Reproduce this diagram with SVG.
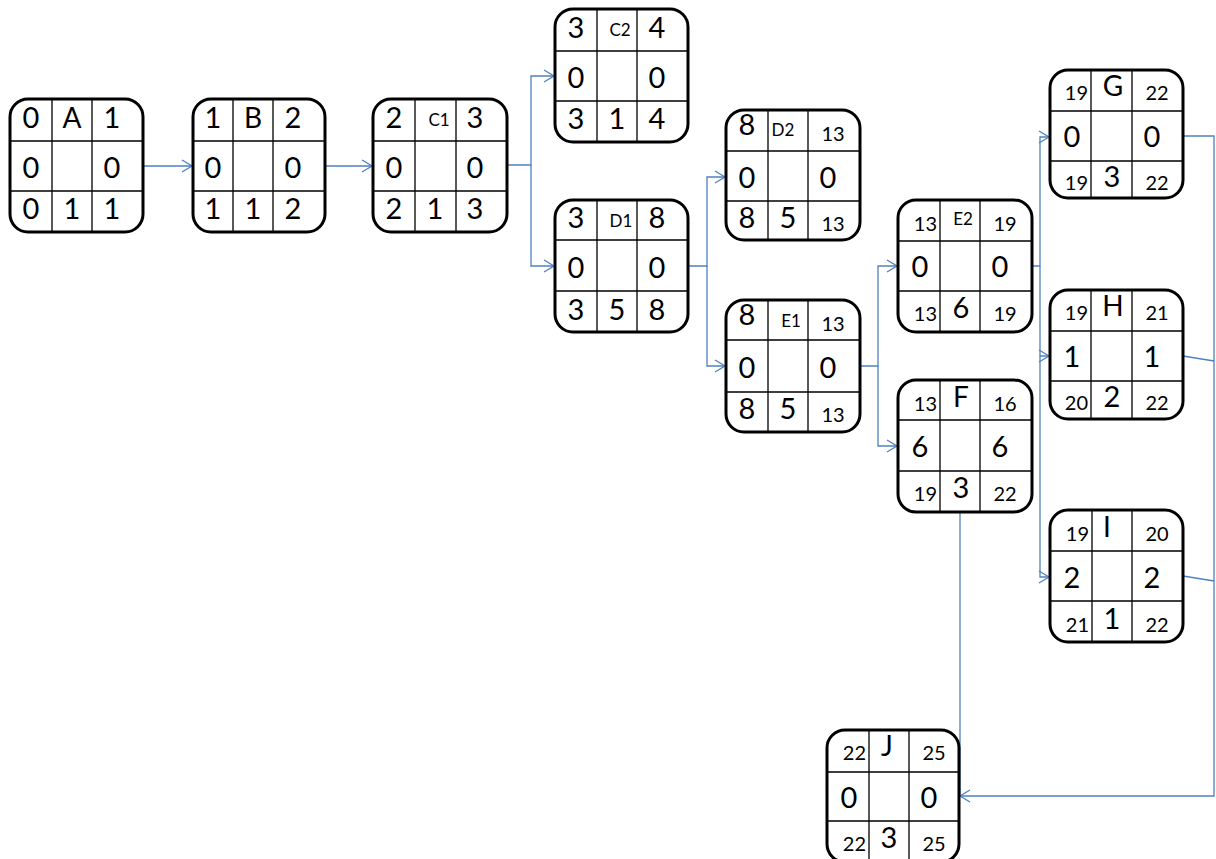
<svg xmlns="http://www.w3.org/2000/svg" width="1216" height="859" viewBox="0 0 1216 859">
<defs>
<marker id="arr" markerUnits="userSpaceOnUse" markerWidth="14" markerHeight="16" refX="11" refY="7" orient="auto">
<path d="M1,1 L11,7 L1,13" fill="none" stroke="#4f81bd" stroke-width="1.3"/>
</marker>
</defs>
<style>
.box{fill:#fff;stroke:#000;stroke-width:3}
.grid{fill:none;stroke:#000;stroke-width:1.3}
text{font-family:Lato,"Liberation Sans",sans-serif;fill:#000;text-anchor:middle}
.b{font-size:29px}
.s{font-size:20px}
.sl{font-size:20px;text-anchor:end}
.l{font-size:17px}
.let{font-size:28px}
.conn{fill:none;stroke:#4f81bd;stroke-width:1.3}
</style>
<rect width="1216" height="859" fill="#fff"/>
<g id="connectors">
<path class="conn" d="M143,166 H192" marker-end="url(#arr)"/>
<path class="conn" d="M325,166 H372" marker-end="url(#arr)"/>
<path class="conn" d="M507,165 H531 V76 H554" marker-end="url(#arr)"/>
<path class="conn" d="M531,165 V266 H554" marker-end="url(#arr)"/>
<path class="conn" d="M688,266 H707 V177 H725" marker-end="url(#arr)"/>
<path class="conn" d="M707,266 V366 H725" marker-end="url(#arr)"/>
<path class="conn" d="M860,366 H878 V266 H897" marker-end="url(#arr)"/>
<path class="conn" d="M878,366 V446 H897" marker-end="url(#arr)"/>
<path class="conn" d="M1032,266 H1040 V137 H1049" marker-end="url(#arr)"/>
<path class="conn" d="M1040,266 V356 H1049" marker-end="url(#arr)"/>
<path class="conn" d="M1040,356 V577 H1049" marker-end="url(#arr)"/>
<path class="conn" d="M1183,136 H1214 V796 H960" marker-end="url(#arr)"/>
<path class="conn" d="M1183,356 L1214,361"/>
<path class="conn" d="M1183,576 L1214,581"/>
<path class="conn" d="M960,512 V796"/>
</g>
<g id="A" transform="translate(10,99)">
<rect class="box" width="133" height="133" rx="18"/>
<path class="grid" d="M42,0V133M82,0V133M0,42H133M0,92H133"/>
<text class="b" x="21" y="29">0</text><text class="let" x="62" y="29">A</text><text class="b" x="102" y="29">1</text>
<text class="b" x="21" y="79">0</text><text class="b" x="102" y="79">0</text>
<text class="b" x="21" y="120">0</text><text class="b" x="62" y="120">1</text><text class="b" x="102" y="120">1</text>
</g>
<g id="B" transform="translate(193,99)">
<rect class="box" width="132" height="133" rx="18"/>
<path class="grid" d="M40,0V133M80,0V133M0,42H132M0,92H132"/>
<text class="b" x="20" y="29">1</text><text class="let" x="60" y="29">B</text><text class="b" x="100" y="29">2</text>
<text class="b" x="20" y="79">0</text><text class="b" x="100" y="79">0</text>
<text class="b" x="20" y="120">1</text><text class="b" x="60" y="120">1</text><text class="b" x="100" y="120">2</text>
</g>
<g id="C1" transform="translate(373,99)">
<rect class="box" width="134" height="133" rx="18"/>
<path class="grid" d="M42,0V133M83,0V133M0,42H134M0,92H134"/>
<text class="b" x="21" y="29">2</text><text class="l" x="66" y="27">C1</text><text class="b" x="102" y="29">3</text>
<text class="b" x="21" y="79">0</text><text class="b" x="102" y="79">0</text>
<text class="b" x="21" y="120">2</text><text class="b" x="62" y="120">1</text><text class="b" x="102" y="120">3</text>
</g>
<g id="C2" transform="translate(555,9)">
<rect class="box" width="133" height="133" rx="18"/>
<path class="grid" d="M42,0V133M82,0V133M0,42H133M0,92H133"/>
<text class="b" x="21" y="29">3</text><text class="l" x="65" y="27">C2</text><text class="b" x="102" y="29">4</text>
<text class="b" x="21" y="79">0</text><text class="b" x="102" y="79">0</text>
<text class="b" x="21" y="120">3</text><text class="b" x="62" y="120">1</text><text class="b" x="102" y="120">4</text>
</g>
<g id="D1" transform="translate(555,200)">
<rect class="box" width="133" height="132" rx="18"/>
<path class="grid" d="M42,0V132M82,0V132M0,40H133M0,91H133"/>
<text class="b" x="21" y="28">3</text><text class="l" x="66" y="27">D1</text><text class="b" x="102" y="28">8</text>
<text class="b" x="21" y="78">0</text><text class="b" x="102" y="78">0</text>
<text class="b" x="21" y="120">3</text><text class="b" x="62" y="120">5</text><text class="b" x="102" y="120">8</text>
</g>
<g id="D2" transform="translate(726,110)">
<rect class="box" width="134" height="130" rx="18"/>
<path class="grid" d="M42,0V130M82,0V130M0,41H134M0,91H134"/>
<text class="b" x="21" y="25">8</text><text class="l" x="57" y="26">D2</text><text class="s" x="107" y="31">13</text>
<text class="b" x="21" y="78">0</text><text class="b" x="102" y="78">0</text>
<text class="b" x="21" y="118">8</text><text class="b" x="62" y="118">5</text><text class="s" x="107" y="121">13</text>
</g>
<g id="E1" transform="translate(726,300)">
<rect class="box" width="134" height="132" rx="18"/>
<path class="grid" d="M42,0V132M82,0V132M0,40H134M0,92H134"/>
<text class="b" x="21" y="25">8</text><text class="l" x="65" y="27">E1</text><text class="s" x="107" y="31">13</text>
<text class="b" x="21" y="78">0</text><text class="b" x="102" y="78">0</text>
<text class="b" x="21" y="119">8</text><text class="b" x="62" y="119">5</text><text class="s" x="107" y="122">13</text>
</g>
<g id="E2" transform="translate(898,200)">
<rect class="box" width="134" height="132" rx="18"/>
<path class="grid" d="M42,0V132M82,0V132M0,41H134M0,91H134"/>
<text class="sl" x="39" y="31">13</text><text class="l" x="65" y="25">E2</text><text class="s" x="107" y="31">19</text>
<text class="b" x="22" y="77">0</text><text class="b" x="102" y="77">0</text>
<text class="sl" x="39" y="121">13</text><text class="b" x="63" y="118">6</text><text class="s" x="107" y="121">19</text>
</g>
<g id="F" transform="translate(898,380)">
<rect class="box" width="134" height="132" rx="18"/>
<path class="grid" d="M42,0V132M82,0V132M0,40H134M0,91H134"/>
<text class="sl" x="39" y="31">13</text><text class="let" x="63" y="27">F</text><text class="s" x="107" y="31">16</text>
<text class="b" x="22" y="77">6</text><text class="b" x="102" y="77">6</text>
<text class="sl" x="39" y="121">19</text><text class="b" x="63" y="118">3</text><text class="s" x="107" y="121">22</text>
</g>
<g id="G" transform="translate(1050,70)">
<rect class="box" width="133" height="128" rx="18"/>
<path class="grid" d="M41,0V128M82,0V128M0,41H133M0,91H133"/>
<text class="sl" x="38" y="30">19</text><text class="let" x="63" y="26">G</text><text class="s" x="107" y="30">22</text>
<text class="b" x="22" y="77">0</text><text class="b" x="102" y="77">0</text>
<text class="sl" x="38" y="120">19</text><text class="b" x="62" y="117">3</text><text class="s" x="107" y="120">22</text>
</g>
<g id="H" transform="translate(1050,290)">
<rect class="box" width="133" height="129" rx="18"/>
<path class="grid" d="M41,0V129M82,0V129M0,41H133M0,91H133"/>
<text class="sl" x="38" y="30">19</text><text class="let" x="63" y="26">H</text><text class="s" x="107" y="30">21</text>
<text class="b" x="22" y="77">1</text><text class="b" x="102" y="77">1</text>
<text class="sl" x="38" y="120">20</text><text class="b" x="62" y="117">2</text><text class="s" x="107" y="120">22</text>
</g>
<g id="I" transform="translate(1050,510)">
<rect class="box" width="133" height="132" rx="18"/>
<path class="grid" d="M42,0V132M82,0V132M0,41H133M0,91H133"/>
<text class="sl" x="39" y="31">19</text><text class="let" x="57" y="27">I</text><text class="s" x="107" y="31">20</text>
<text class="b" x="22" y="78">2</text><text class="b" x="102" y="78">2</text>
<text class="sl" x="39" y="122">21</text><text class="b" x="62" y="119">1</text><text class="s" x="107" y="122">22</text>
</g>
<g id="J" transform="translate(827,730)">
<rect class="box" width="132" height="132" rx="18"/>
<path class="grid" d="M42,0V132M82,0V132M0,42H132M0,91H132"/>
<text class="sl" x="39" y="30">22</text><text class="let" x="60" y="26">J</text><text class="s" x="107" y="30">25</text>
<text class="b" x="22" y="78">0</text><text class="b" x="102" y="78">0</text>
<text class="sl" x="39" y="121">22</text><text class="b" x="62" y="118">3</text><text class="s" x="107" y="121">25</text>
</g>
</svg>
